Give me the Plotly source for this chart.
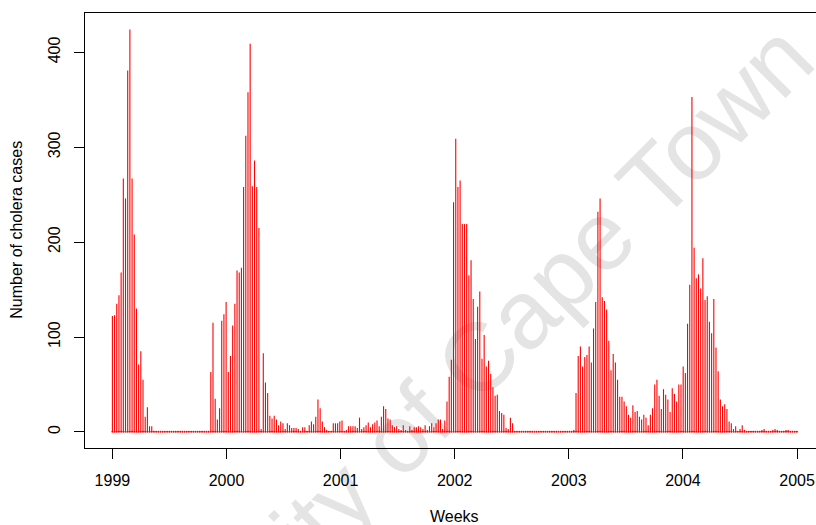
import numpy as np
import plotly.graph_objects as go

# Weekly cholera case counts (week 0 = start of 1999)
season_1999 = [122, 123, 135, 144, 168, 267, 246, 381, 424, 267, 208, 130, 71, 85, 55, 16, 26, 6, 6]
gap_1999 = [0] * 26
season_2000 = [63, 115, 35, 13, 25, 117, 124, 137, 63, 80, 112, 135, 170, 168, 173, 258, 312,
               358, 409, 259, 286, 258, 215]
tail_2000_2001 = [3, 83, 52, 41, 17, 14, 17, 13, 7, 11, 9, 3, 9, 7, 4, 4, 4, 3, 0, 5, 5, 1, 7, 11,
                  8, 16, 34, 25, 11, 5, 2, 0, 0, 9, 9, 9, 11, 12, 0, 2, 6, 6, 6, 6, 4, 15, 3, 5,
                  7, 10, 5, 8, 10, 12, 6, 16, 27]
season_2002 = [24, 14, 13, 7, 5, 6, 3, 2, 7, 2, 0, 6, 2, 5, 5, 6, 5, 3, 7, 2, 6, 9, 5, 9, 13, 13,
               3, 12, 32, 58, 76, 242, 309, 258, 265, 219, 219, 219, 165, 181, 140, 98, 132, 148,
               77, 102, 69, 75, 61, 47, 38, 39, 22, 20, 18, 4, 3, 15, 9]
gap_2002 = [0] * 27
season_2003 = [2, 41, 80, 90, 69, 79, 81, 90, 73, 109, 137, 232, 246, 142, 138, 129, 96, 65, 82,
               73, 55, 37, 37, 32, 27, 18, 15, 28, 21, 22, 16, 13, 18, 15, 7, 18, 25, 50, 55, 38]
season_2004 = [24, 45, 39, 34, 21, 46, 40, 32, 50, 50, 69, 62, 114, 155, 353, 194, 162, 166, 151,
               183, 139, 143, 116, 104, 140, 89, 64, 34, 27, 29, 24, 11, 9, 3, 6, 0, 3, 7, 2]
tail_2004 = [1, 1, 1, 1, 1, 1, 1, 2, 3, 1, 1, 1, 2, 3, 2, 1, 1, 1, 2, 2, 1, 1, 1, 1]

year_ticks = [1999, 2000, 2001, 2002, 2003, 2004, 2005]
y_ticks = [0, 100, 200, 300, 400]

cases = (season_1999 + gap_1999 + season_2000 + tail_2000_2001 + season_2002 + gap_2002
         + season_2003 + season_2004 + tail_2004)
week_len = 7 / 365.25
weeks = 1999 + np.arange(len(cases)) * week_len

# vertical "h"-type spikes from 0 to each weekly value
spike_x, spike_y = [], []
for wx, wy in zip(weeks, cases):
    spike_x += [wx, wx, None]
    spike_y += [0, wy, None]

font_family = "Liberation Sans, Arial, Helvetica, sans-serif"

fig = go.Figure()
fig.add_trace(go.Scatter(x=spike_x, y=spike_y, mode="lines",
                         line=dict(color="#ff0000", width=1.1),
                         showlegend=False, hoverinfo="skip"))
fig.add_trace(go.Scatter(x=weeks, y=[0] * len(cases), mode="markers",
                         marker=dict(symbol="circle", size=2, color="#ff0000", line=dict(width=0)),
                         showlegend=False, hoverinfo="skip"))

fig.update_layout(
    width=816, height=525,
    margin=dict(l=85, r=0, t=13, b=77),
    paper_bgcolor="white", plot_bgcolor="white",
    font=dict(family=font_family, size=16, color="black"),
    xaxis=dict(range=[1998.76, 2005.166], tickvals=year_ticks, ticktext=[str(v) for v in year_ticks],
               showgrid=False, zeroline=False, showline=True, mirror=True,
               linecolor="black", linewidth=1, ticks="outside", ticklen=10, tickcolor="black",
               tickwidth=1, ticklabelstandoff=8),
    yaxis=dict(range=[-17, 441.5], tickvals=y_ticks, ticktext=[str(v) for v in y_ticks],
               tickangle=-90, showgrid=False, zeroline=False, showline=True,
               linecolor="black", linewidth=1, ticks="outside", ticklen=10, tickcolor="black",
               tickwidth=1, ticklabelstandoff=8),
    shapes=[dict(type="rect", xref="paper", yref="paper", x0=0.438, x1=0.478, y0=0.082, y1=0.122,
                 layer="below", line=dict(width=0), fillcolor="rgba(0,0,0,0)",
                 label=dict(text="University of Cape Town", textangle=-45,
                            textposition="middle center",
                            font=dict(family=font_family, size=97, color="#e4e4e4")))],
    annotations=[
        dict(text="Weeks", x=2002, xref="x", y=-0.1586, yref="paper", showarrow=False,
             xanchor="center", yanchor="middle", font=dict(size=16)),
        dict(text="Number of cholera cases", x=-0.0949, xref="paper", y=0.501, yref="paper",
             showarrow=False, textangle=-90, xanchor="center", yanchor="middle",
             font=dict(size=16)),
    ],
)

fig.write_html("out.html")
